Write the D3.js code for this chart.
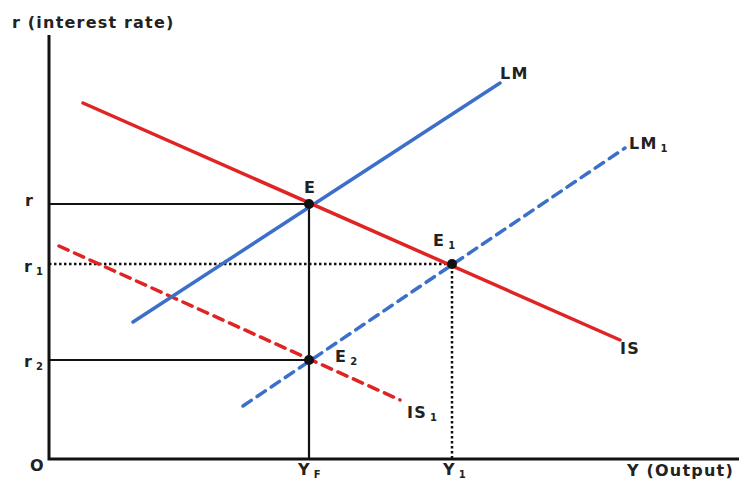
<!DOCTYPE html>
<html>
<head>
<meta charset="utf-8">
<script src="https://cdn.jsdelivr.net/npm/d3@7"></script>
<style>
  body { margin: 0; background: #fff; }
  text { font-family: "DejaVu Sans", "Liberation Sans", Arial, sans-serif; font-weight: bold; fill: #222; letter-spacing: 1.2px; }
</style>
</head>
<body>
<div id="chart"></div>
<script>
// curve end points in chart units (x = output, y = interest rate)
var isCurve  = [[34, 356], [571, 119]];
var lmCurve  = [[84, 137], [451, 376]];
var lm1Curve = [[194, 53], [576, 311]];
var is1Curve = [[10, 213], [351, 59]];

// equilibria
var eqNames  = ["E", "E1", "E2"];
var eqPoints = [[260, 255], [403, 195], [260, 99]];

var width = 742, height = 481;

var svg = d3.select("#chart")
  .append("svg")
  .attr("width", width)
  .attr("height", height);

var x = d3.scaleLinear().domain([0, 690]).range([49, 739]);
var y = d3.scaleLinear().domain([0, 424]).range([459, 35]);

var line = d3.line()
  .x(function(d){ return x(d[0]); })
  .y(function(d){ return y(d[1]); });

// guide lines
var E = eqPoints[0], E1 = eqPoints[1], E2 = eqPoints[2];
svg.append("path")
  .attr("d", line([[0, E[1]], E, [E[0], 0]]))
  .attr("fill", "none").attr("stroke", "#111").attr("stroke-width", 2.2);
svg.append("path")
  .attr("d", line([[0, E2[1]], E2]))
  .attr("fill", "none").attr("stroke", "#111").attr("stroke-width", 2.2);
svg.append("path")
  .attr("d", line([[0, E1[1]], E1, [E1[0], 0]]))
  .attr("fill", "none").attr("stroke", "#111").attr("stroke-width", 2.5)
  .attr("stroke-dasharray", "2.5,2.5");

// curves
function curve(pts, color, dash){
  var p = svg.append("path")
    .attr("d", line(pts))
    .attr("fill", "none")
    .attr("stroke", color)
    .attr("stroke-width", 3.5)
    .attr("stroke-linecap", "round");
  if (dash) p.attr("stroke-dasharray", dash);
}
curve(is1Curve, "#e02424", "10,7");
curve(lm1Curve, "#3b6fc9", "10,7");
curve(lmCurve, "#3b6fc9");
curve(isCurve, "#e02424");

// axes
svg.append("path")
  .attr("d", line([[0, 424], [0, 0], [690, 0]]))
  .attr("fill", "none").attr("stroke", "#111").attr("stroke-width", 3);

// equilibrium dots
svg.selectAll("circle.eq")
  .data(eqPoints)
  .enter().append("circle")
  .attr("class", "eq")
  .attr("cx", function(d){ return x(d[0]); })
  .attr("cy", function(d){ return y(d[1]); })
  .attr("r", 5)
  .attr("fill", "#111");

// labels
function label(main, sub, px, py, anchor){
  var t = svg.append("text")
    .attr("x", px).attr("y", py)
    .attr("font-size", 16)
    .attr("text-anchor", anchor || "start")
    .text(main);
  if (sub) {
    t.append("tspan").attr("font-size", 10).attr("dy", 3).attr("dx", 3).text(sub);
  }
}
label("r (interest rate)", null, 12, 28);
label("r", null, 25, 206);
label("r", "1", 24, 272);
label("r", "2", 24, 367);
label("O", null, 30, 471);
label("Y", "F", 298, 475);
label("Y", "1", 443, 475);
label("Y (Output)", null, 627, 476);
label("E", null, 304, 193);
label("E", "1", 433, 246);
label("E", "2", 335, 362);
label("LM", null, 500, 79);
label("LM", "1", 629, 149);
label("IS", null, 620, 354);
label("IS", "1", 407, 418);
</script>
</body>
</html>
